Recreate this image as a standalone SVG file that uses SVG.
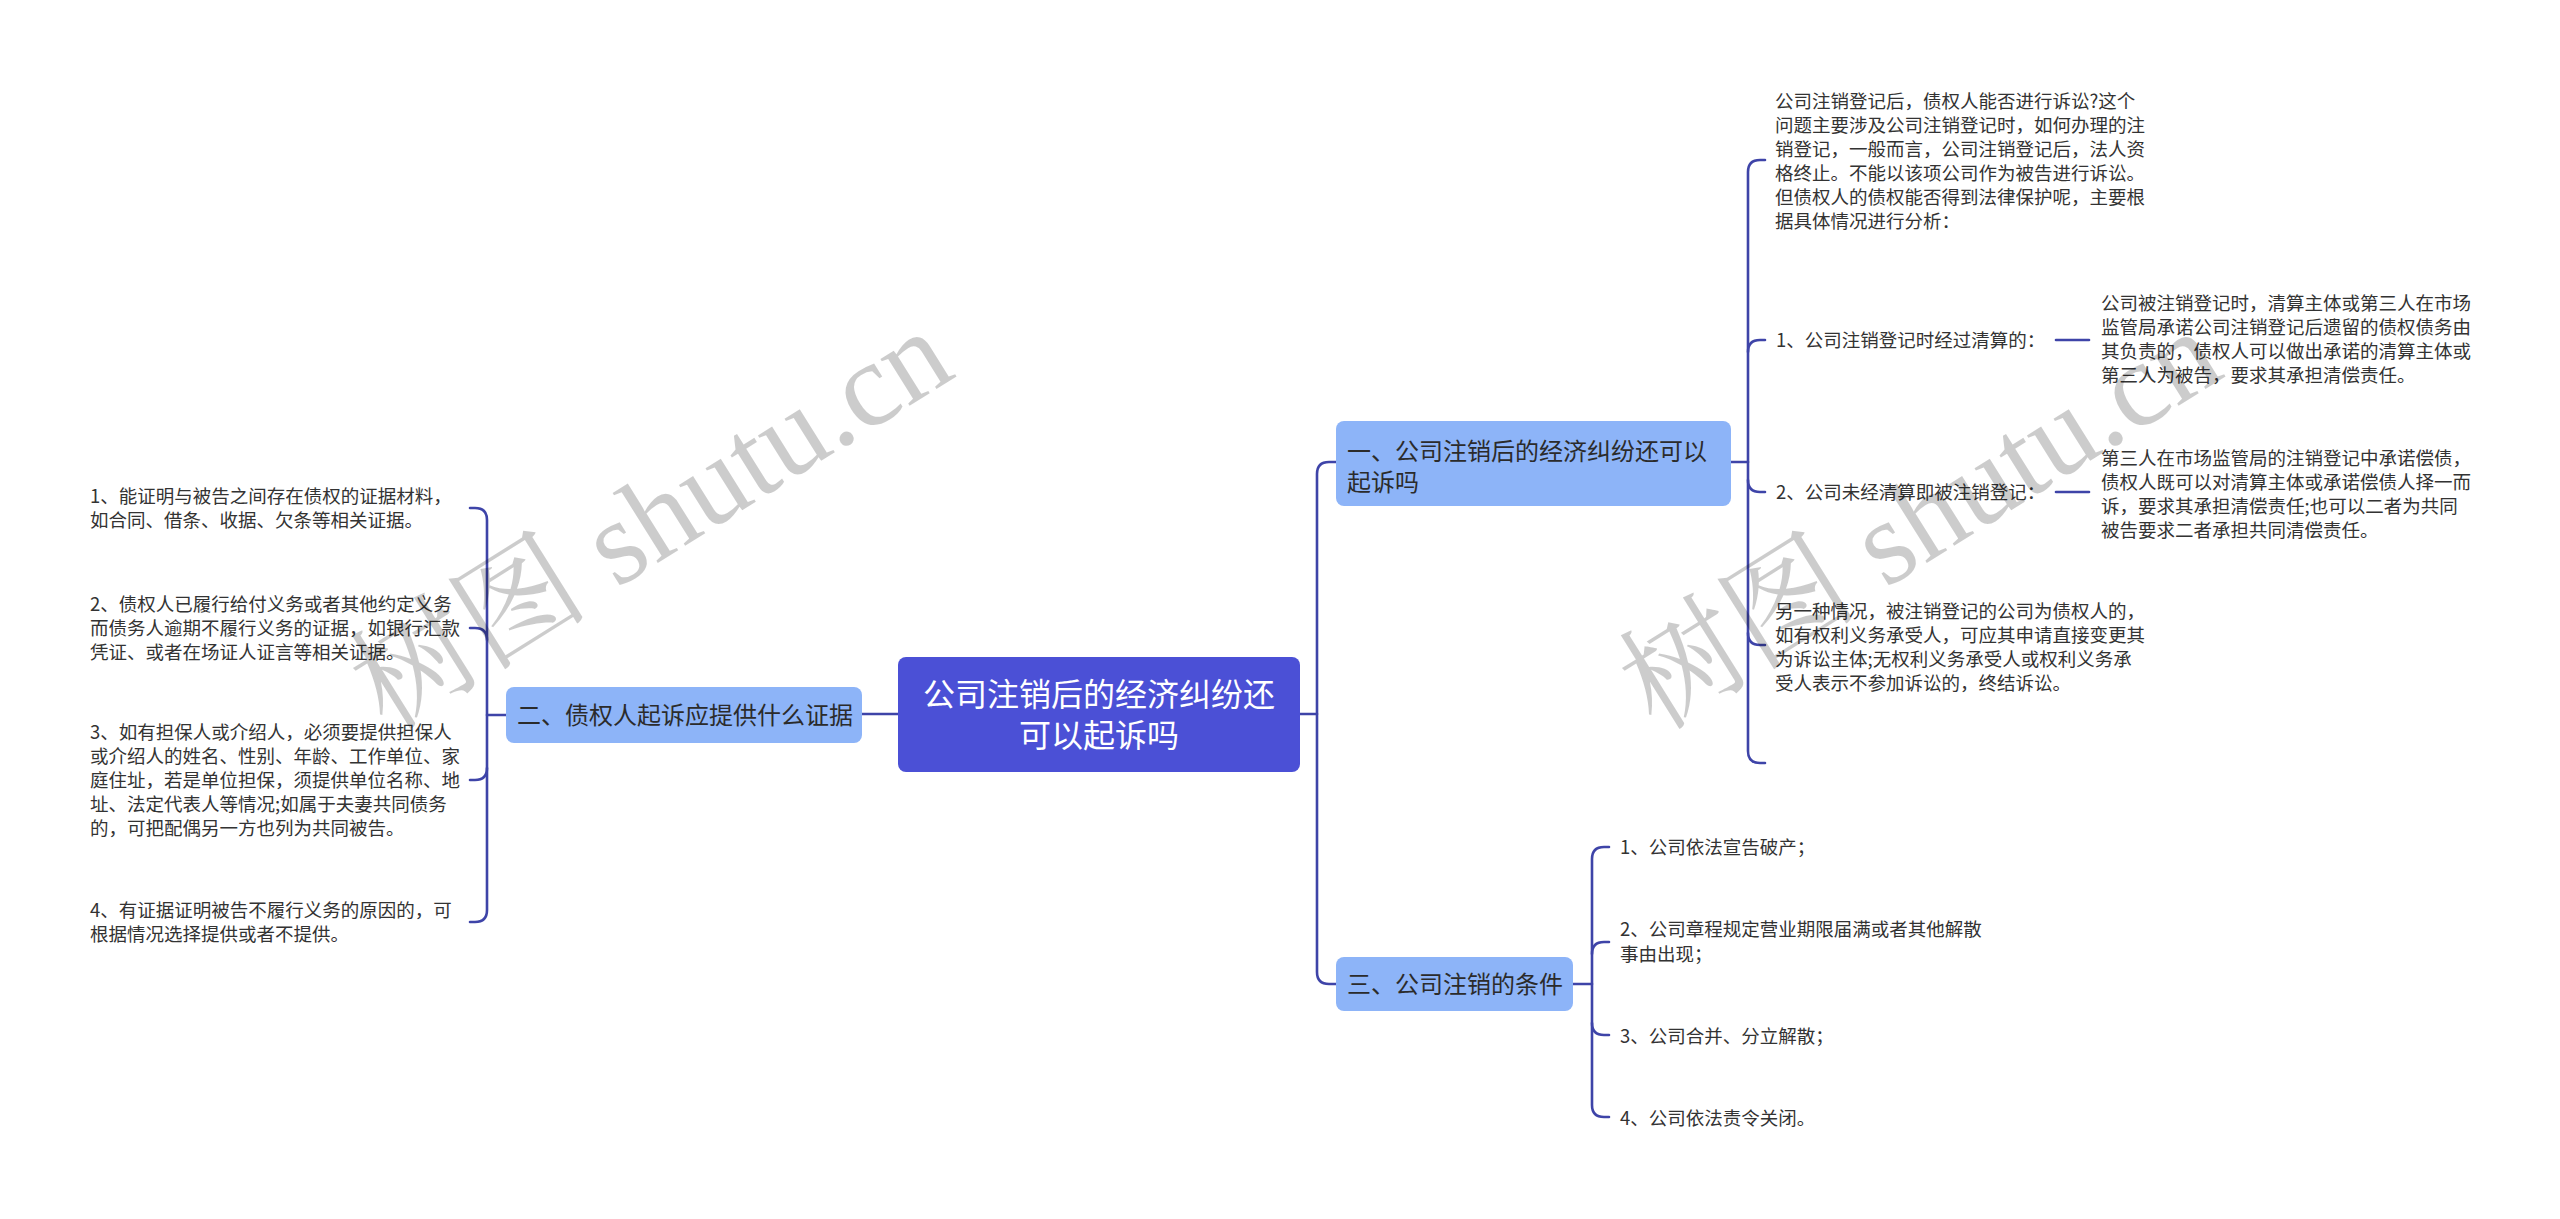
<svg xmlns="http://www.w3.org/2000/svg" width="2560" height="1219" viewBox="0 0 2560 1219">
<style>
.t{font-family:"Noto Sans CJK SC","Noto Sans",sans-serif;font-size:18.5px;fill:#333333}
.n{font-family:"Noto Sans CJK SC","Noto Sans",sans-serif;font-size:24px;fill:#2b2b2b}
.c{font-family:"Noto Sans CJK SC","Noto Sans",sans-serif;font-size:32px;fill:#ffffff}
.lb{fill:#8db4f8}
.cn{fill:none;stroke:#3e44a8;stroke-width:2.6;stroke-linecap:round;stroke-linejoin:round}
.wm{font-family:"Liberation Serif","Noto Serif CJK SC","Noto Sans CJK SC",serif;font-size:120px;fill:#000000;fill-opacity:0.2}
</style>
<rect width="2560" height="1219" fill="#ffffff"/>
<g id="connectors" class="cn">
<path d="M1300,714 H1317"/>
<path d="M1336,462 H1329 Q1317,462 1317,474 V972 Q1317,984 1329,984 H1336"/>
<path d="M898,714 H862"/>
<path d="M506,715 H487"/>
<path d="M470,508 H475 Q487,508 487,520 V910 Q487,922 475,922 H470"/>
<path d="M487,640 Q487,628 475,628 H470"/>
<path d="M487,768 Q487,780 475,780 H470"/>
<path d="M1731,462 H1748"/>
<path d="M1765,160 H1760 Q1748,160 1748,172 V751 Q1748,763 1760,763 H1765"/>
<path d="M1748,352 Q1748,340 1760,340 H1765"/>
<path d="M1748,480 Q1748,492 1760,492 H1765"/>
<path d="M1748,633 Q1748,645 1760,645 H1765"/>
<path d="M2056,340 H2089"/>
<path d="M2056,492 H2089"/>
<path d="M1573,984 H1592"/>
<path d="M1609,847 H1604 Q1592,847 1592,859 V1105 Q1592,1117 1604,1117 H1609"/>
<path d="M1592,954 Q1592,942 1604,942 H1609"/>
<path d="M1592,1023 Q1592,1035 1604,1035 H1609"/>
</g>
<g id="root">
<rect x="898" y="657" width="402" height="115" rx="8" fill="#4b50d6"/>
<text class="c" x="1099" text-anchor="middle"><tspan x="1099" y="706">公司注销后的经济纠纷还</tspan><tspan x="1099" y="747">可以起诉吗</tspan></text>
</g>
<g id="node-left">
<rect class="lb" x="506" y="687" width="356" height="56" rx="8"/>
<text class="n" x="517" y="724">二、债权人起诉应提供什么证据</text>
</g>
<g id="left-1"><text class="t"><tspan x="90" y="503">1、能证明与被告之间存在债权的证据材料，</tspan><tspan x="90" y="527">如合同、借条、收据、欠条等相关证据。</tspan></text></g>
<g id="left-2"><text class="t"><tspan x="90" y="611">2、债权人已履行给付义务或者其他约定义务</tspan><tspan x="90" y="635">而债务人逾期不履行义务的证据，如银行汇款</tspan><tspan x="90" y="659">凭证、或者在场证人证言等相关证据。</tspan></text></g>
<g id="left-3"><text class="t"><tspan x="90" y="739">3、如有担保人或介绍人，必须要提供担保人</tspan><tspan x="90" y="763">或介绍人的姓名、性别、年龄、工作单位、家</tspan><tspan x="90" y="787">庭住址，若是单位担保，须提供单位名称、地</tspan><tspan x="90" y="811">址、法定代表人等情况;如属于夫妻共同债务</tspan><tspan x="90" y="835">的，可把配偶另一方也列为共同被告。</tspan></text></g>
<g id="left-4"><text class="t"><tspan x="90" y="917">4、有证据证明被告不履行义务的原因的，可</tspan><tspan x="90" y="941">根据情况选择提供或者不提供。</tspan></text></g>
<g id="node-1">
<rect class="lb" x="1336" y="421" width="395" height="85" rx="8"/>
<text class="n"><tspan x="1347" y="460">一、公司注销后的经济纠纷还可以</tspan><tspan x="1347" y="491">起诉吗</tspan></text>
</g>
<g id="n1-c1"><text class="t"><tspan x="1775" y="108">公司注销登记后，债权人能否进行诉讼?这个</tspan><tspan x="1775" y="132">问题主要涉及公司注销登记时，如何办理的注</tspan><tspan x="1775" y="156">销登记，一般而言，公司注销登记后，法人资</tspan><tspan x="1775" y="180">格终止。不能以该项公司作为被告进行诉讼。</tspan><tspan x="1775" y="204">但债权人的债权能否得到法律保护呢，主要根</tspan><tspan x="1775" y="228">据具体情况进行分析：</tspan></text></g>
<g id="n1-c2"><text class="t" x="1776" y="347">1、公司注销登记时经过清算的：</text></g>
<g id="n1-c2-1"><text class="t"><tspan x="2101" y="310">公司被注销登记时，清算主体或第三人在市场</tspan><tspan x="2101" y="334">监管局承诺公司注销登记后遗留的债权债务由</tspan><tspan x="2101" y="358">其负责的，债权人可以做出承诺的清算主体或</tspan><tspan x="2101" y="382">第三人为被告，要求其承担清偿责任。</tspan></text></g>
<g id="n1-c3"><text class="t" x="1776" y="499">2、公司未经清算即被注销登记：</text></g>
<g id="n1-c3-1"><text class="t"><tspan x="2101" y="465">第三人在市场监管局的注销登记中承诺偿债，</tspan><tspan x="2101" y="489">债权人既可以对清算主体或承诺偿债人择一而</tspan><tspan x="2101" y="513">诉，要求其承担清偿责任;也可以二者为共同</tspan><tspan x="2101" y="537">被告要求二者承担共同清偿责任。</tspan></text></g>
<g id="n1-c4"><text class="t"><tspan x="1775" y="618">另一种情况，被注销登记的公司为债权人的，</tspan><tspan x="1775" y="642">如有权利义务承受人，可应其申请直接变更其</tspan><tspan x="1775" y="666">为诉讼主体;无权利义务承受人或权利义务承</tspan><tspan x="1775" y="690">受人表示不参加诉讼的，终结诉讼。</tspan></text></g>
<g id="node-3">
<rect class="lb" x="1336" y="957" width="237" height="54" rx="8"/>
<text class="n" x="1347" y="993">三、公司注销的条件</text>
</g>
<g id="n3-c1"><text class="t" x="1620" y="854">1、公司依法宣告破产；</text></g>
<g id="n3-c2"><text class="t"><tspan x="1620" y="936">2、公司章程规定营业期限届满或者其他解散</tspan><tspan x="1620" y="961">事由出现；</tspan></text></g>
<g id="n3-c3"><text class="t" x="1620" y="1043">3、公司合并、分立解散；</text></g>
<g id="n3-c4"><text class="t" x="1620" y="1125">4、公司依法责令关闭。</text></g>
<g id="watermark">
<text class="wm" x="651" y="560" text-anchor="middle" transform="rotate(-32 651 519)">树图 shutu.cn</text>
<text class="wm" x="1920" y="560" text-anchor="middle" transform="rotate(-32 1920 519)">树图 shutu.cn</text>
</g>
</svg>
